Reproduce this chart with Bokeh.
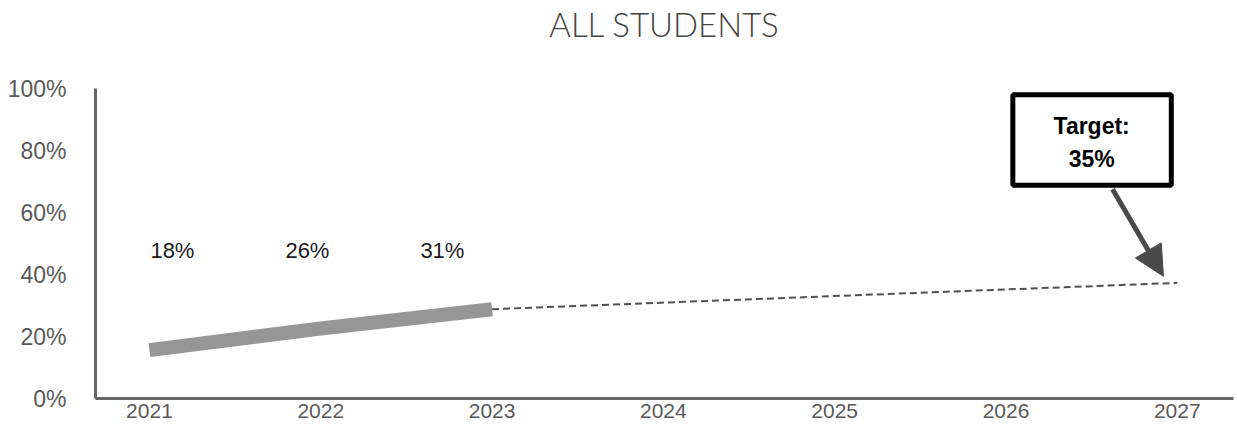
from bokeh.plotting import figure
from bokeh.models import Range1d, FixedTicker, Arrow, NormalHead, ColumnDataSource, Title
from bokeh.core.properties import value
from bokeh.embed import file_html
from bokeh.resources import INLINE

# ---- data ----
years = [2021, 2022, 2023]
actual = [15.6, 22.6, 28.8]
proj_years = [2023, 2027]
projection = [28.8, 37.3]
label_texts = ["18%", "26%", "31%"]
label_x = [2021.134, 2021.922, 2022.71]
label_y = [47.7, 47.7, 47.7]
tick_years = [2021, 2022, 2023, 2024, 2025, 2026, 2027]
y_ticks = [0, 20, 40, 60, 80, 100]
title_text = "ALL STUDENTS"
target_text = "Target:\n35%"

p = figure(width=1237, height=429, output_backend="svg", toolbar_location=None,
           x_range=Range1d(2020.685, 2027.328), y_range=Range1d(0, 100),
           min_border_left=95, min_border_right=4, min_border_top=88, min_border_bottom=31)
p.outline_line_color = None
p.grid.visible = False
p.background_fill_color = "white"

p.title.text = title_text
p.title.align = "center"
p.title.vertical_align = "top"
p.title.text_font = "Lato Light"
p.title.text_font_style = "normal"
p.title.text_font_size = "33px"
p.title.text_color = "#444444"
p.title.standoff = 0
p.title.offset = 0

# blank spacer between the title and the plot area
p.add_layout(Title(text=" ", text_font_size="10px", standoff=30), "above")

for ax in (p.xaxis, p.yaxis):
    ax.axis_line_color = "#666666"
    ax.axis_line_width = 3
    ax.major_tick_line_color = None
    ax.minor_tick_line_color = None
    ax.major_tick_out = 0
    ax.major_tick_in = 0
    ax.axis_label_standoff = 0
    ax.major_label_text_font = "Liberation Sans"
    ax.major_label_text_color = "#595959"

p.xaxis.ticker = FixedTicker(ticks=tick_years)
p.xaxis.major_label_text_font_size = "21px"
p.xaxis.major_label_standoff = 5
p.yaxis.ticker = FixedTicker(ticks=y_ticks)
p.yaxis.major_label_overrides = {t: f"{t}%" for t in y_ticks}
p.yaxis.major_label_text_font_size = "23px"
p.yaxis.major_label_standoff = 29

# projection dashed
p.line(proj_years, projection, line_color="#505050", line_width=2, line_dash="7 4")
# actual thick line
p.line(years, actual, line_color="#969696", line_width=14, line_cap="butt")

src = ColumnDataSource(dict(x=label_x, y=label_y, t=label_texts))
p.text(x="x", y="y", text="t", source=src, text_font=value("Liberation Sans"),
       text_font_size="22px", text_color="#1a1a1a", text_align="center", text_baseline="middle")

# target box
p.quad(left=[2026.04], right=[2026.965], top=[98.0], bottom=[68.8],
       fill_color="white", line_color="black", line_width=5)
p.text(x=[2026.5], y=[82.6], text=[target_text], text_font=value("Liberation Sans"),
       text_font_style="bold", text_font_size="23px", text_color="black",
       text_align="center", text_baseline="middle", text_line_height=1.26)

p.add_layout(Arrow(end=NormalHead(size=30, fill_color="#4a4a4a", line_color="#4a4a4a"),
                   x_start=2026.622, y_start=67.5, x_end=2026.919, y_end=39.4,
                   line_color="#4a4a4a", line_width=5))

open("out.html", "w").write(file_html(p, INLINE))
